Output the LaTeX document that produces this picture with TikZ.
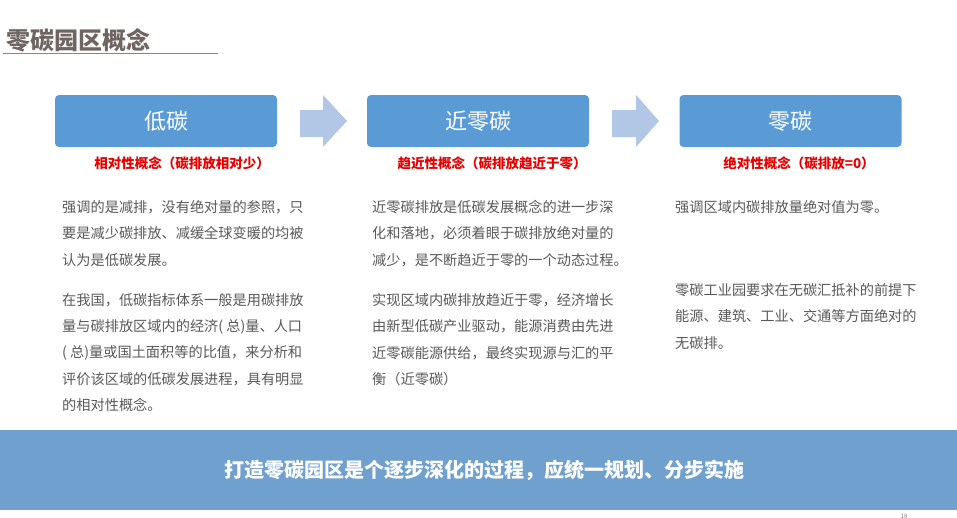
\documentclass[tikz,border=0pt]{standalone}
\usepackage{fontspec}
\setmainfont{Noto Sans CJK SC}
\usetikzlibrary{shapes.arrows}
\definecolor{boxblue}{RGB}{91,155,213}
\definecolor{arrowblue}{RGB}{178,198,230}
\definecolor{bandblue}{RGB}{111,160,206}
\definecolor{redtxt}{RGB}{230,0,0}
\definecolor{bodygray}{RGB}{89,89,89}
\definecolor{titlegray}{RGB}{111,101,98}
\tikzset{
  stagebox/.style={fill=boxblue, rounded corners=4pt, minimum width=222pt, minimum height=52pt, inner sep=0pt, text=white, font=\fontsize{22}{24}\selectfont},
  subtitle/.style={text=redtxt, inner sep=0pt, font=\fontsize{13.5}{15}\selectfont\bfseries},
  body/.style={text=bodygray, inner sep=0pt, anchor=base west, font=\fontsize{14.2}{16}\selectfont},
  blockarrow/.style={fill=arrowblue, draw=none}
}
\begin{document}
\begin{tikzpicture}[x=1pt,y=-1pt]
\useasboundingbox[fill=white] (0,0) rectangle (957,517);
% title
\node[anchor=west, inner sep=0pt, text=titlegray, font=\fontsize{24}{26}\selectfont\bfseries] (title) at (6,40) {零碳园区概念};
\coordinate (ulA) at (3,53);
\coordinate (ulB) at (218,53);
\draw[titlegray!80, line width=1pt] (ulA) -- (ulB);
% stage boxes
\node[stagebox] (b1) at (166,121) {低碳};
\node[stagebox] (b2) at (478,121) {近零碳};
\node[stagebox] (b3) at (790.5,121) {零碳};
% block arrows
\fill[blockarrow] (300,110) -- (323,110) -- (323,95) -- (347,121) -- (323,147) -- (323,137) -- (300,137) -- cycle;
\fill[blockarrow] (612,110) -- (636,110) -- (636,95) -- (659,121) -- (636,147) -- (636,137) -- (612,137) -- cycle;
% subtitles
\node[subtitle] (s1) at (182,163) {相对性概念（碳排放相对少）};
\node[subtitle] (s2) at (492,163) {趋近性概念（碳排放趋近于零）};
\node[subtitle] (s3) at (799,163) {绝对性概念（碳排放=0）};
% column 1
\foreach \t [count=\i] in {强调的是减排，没有绝对量的参照，只,要是减少碳排放、减缓全球变暖的均被,认为是低碳发展。}
  \node[body] (c1a\i) at (62,{212.3+26.5*(\i-1)}) {\t};
\foreach \t [count=\i] in {在我国，低碳指标体系一般是用碳排放,量与碳排放区域内的经济( 总)量、人口,( 总)量或国土面积等的比值，来分析和,评价该区域的低碳发展进程，具有明显,的相对性概念。}
  \node[body] (c1b\i) at (62,{305.3+26.3*(\i-1)}) {\t};
% column 2
\foreach \t [count=\i] in {近零碳排放是低碳发展概念的进一步深,化和落地，必须着眼于碳排放绝对量的,减少，是不断趋近于零的一个动态过程。}
  \node[body] (c2a\i) at (372,{212.3+26.5*(\i-1)}) {\t};
\foreach \t [count=\i] in {实现区域内碳排放趋近于零，经济增长,由新型低碳产业驱动，能源消费由先进,近零碳能源供给，最终实现源与汇的平,衡（近零碳）}
  \node[body] (c2b\i) at (372,{305.3+26.5*(\i-1)}) {\t};
% column 3
\node[body] (c3a1) at (675,212.3) {强调区域内碳排放量绝对值为零。};
\foreach \t [count=\i] in {零碳工业园要求在无碳汇抵补的前提下,能源、建筑、工业、交通等方面绝对的,无碳排。}
  \node[body] (c3b\i) at (675,{295.3+26.5*(\i-1)}) {\t};
% bottom band
\fill[bandblue] (0,430) rectangle (957,510);
\node[text=white, inner sep=0pt, font=\fontsize{20}{22}\selectfont\bfseries] (band) at (484,470) {打造零碳园区是个逐步深化的过程，应统一规划、分步实施};
\node[text=gray, inner sep=0pt, font=\fontsize{6}{7}\selectfont] (pg) at (904,516) {18};
\end{tikzpicture}
\end{document}
